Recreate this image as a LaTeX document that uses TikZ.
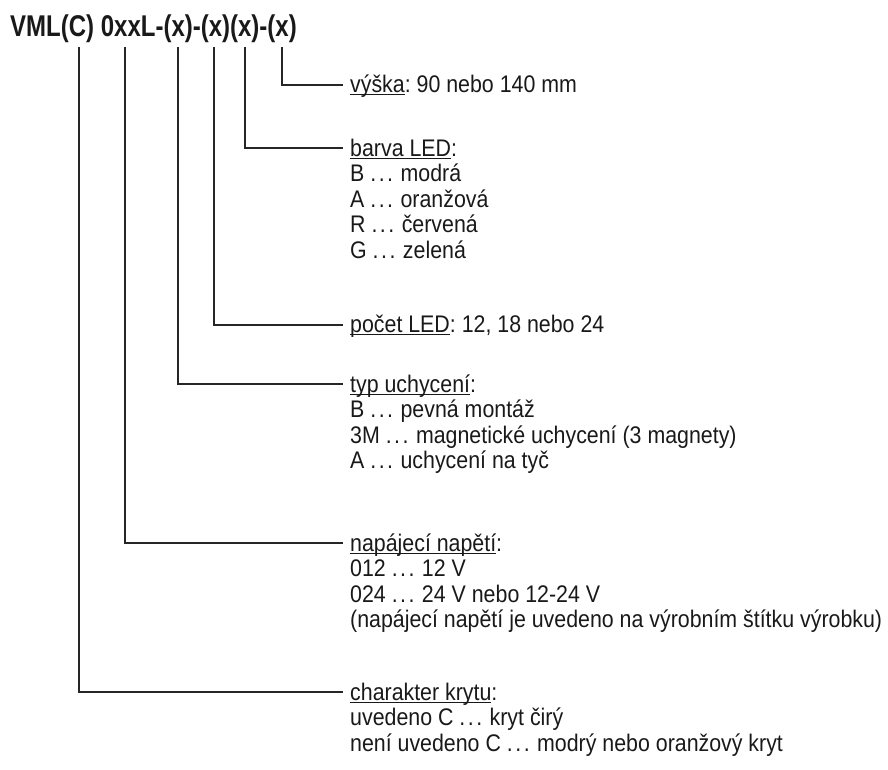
\documentclass[tikz,border=0pt]{standalone}
\usepackage{fontspec}
\setmainfont{Liberation Sans}[FakeStretch=0.89]
\newfontfamily\titlefont{Liberation Sans}[FakeStretch=0.8]
\newcommand\myul[1]{\setbox0\hbox{#1}\rlap{\rule[-2.6pt]{\wd0}{1.1pt}}\box0}
\newcommand\rows[1]{\vtop{#1}}
\newcommand\dd{.\kern2.5pt.\kern2.5pt.\kern1.5pt}
\frenchspacing
\tikzset{
  leader/.style={draw=black!85, line width=1.3pt},
  txt/.style={anchor=base west, inner sep=0pt,
    font=\fontsize{24}{25.5}\selectfont\frenchspacing, text=black!90},
}
\begin{document}
\begin{tikzpicture}[x=1pt,y=-1pt]
\useasboundingbox (0,0) rectangle (888,769);
\node[anchor=base west, inner sep=0pt, text=black!90,
  font=\titlefont\bfseries\fontsize{30}{30}\selectfont] (title) at (10,36)
  {VML(C) 0xxL-(x)-(x)(x)-(x)};
% start points below the code
\coordinate (s1) at (79,47);
\coordinate (s2) at (125,47);
\coordinate (s3) at (178,47);
\coordinate (s4) at (214,47);
\coordinate (s5) at (245,47);
\coordinate (s6) at (282,47);
% end points next to the texts
\coordinate (e6) at (343,85);
\coordinate (e5) at (343,148);
\coordinate (e4) at (343,325);
\coordinate (e3) at (343,384);
\coordinate (e2) at (343,543);
\coordinate (e1) at (343,692);
% texts
\node[txt] (t6) at (350,92) {\myul{výška}: 90 nebo 140 mm};
\node[txt] (t5) at (350,156) {\rows{\hbox{\myul{barva LED}:}\hbox{B \dd{} modrá}\hbox{A \dd{} oranžová}\hbox{R \dd{} červená}\hbox{G \dd{} zelená}}};
\node[txt] (t4) at (350,332) {\myul{počet LED}: 12, 18 nebo 24};
\node[txt] (t3) at (350,392) {\rows{\hbox{\myul{typ uchycení}:}\hbox{B \dd{} pevná montáž}\hbox{3M \dd{} magnetické uchycení (3 magnety)}\hbox{A \dd{} uchycení na tyč}}};
\node[txt] (t2) at (350,551) {\rows{\hbox{\myul{napájecí napětí}:}\hbox{012 \dd{} 12 V}\hbox{024 \dd{} 24 V nebo 12-24 V}\hbox{(napájecí napětí je uvedeno na výrobním štítku výrobku)}}};
\node[txt] (t1) at (350,700) {\rows{\hbox{\myul{charakter krytu}:}\hbox{uvedeno C \dd{} kryt čirý}\hbox{není uvedeno C \dd{} modrý nebo oranžový kryt}}};
% connectors
\draw[leader] (s1) |- (e1);
\draw[leader] (s2) |- (e2);
\draw[leader] (s3) |- (e3);
\draw[leader] (s4) |- (e4);
\draw[leader] (s5) |- (e5);
\draw[leader] (s6) |- (e6);
\end{tikzpicture}
\end{document}
